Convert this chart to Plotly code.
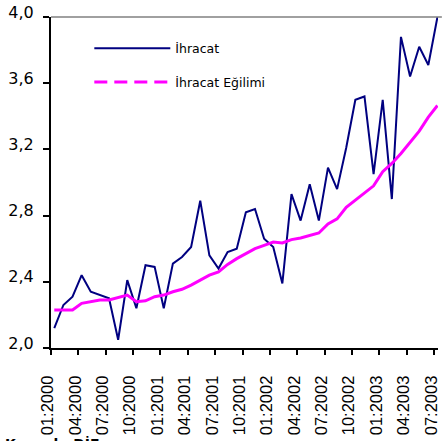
import plotly.graph_objects as go

month_index = list(range(43))
tick_months = list(range(0, 43, 3))
tick_labels = ["01:2000", "04:2000", "07:2000", "10:2000",
               "01:2001", "04:2001", "07:2001", "10:2001",
               "01:2002", "04:2002", "07:2002", "10:2002",
               "01:2003", "04:2003", "07:2003"]

ihracat = [2.12, 2.26, 2.31, 2.44, 2.34, 2.32, 2.30, 2.05, 2.41, 2.24,
           2.50, 2.49, 2.24, 2.51, 2.55, 2.61, 2.89, 2.56, 2.48, 2.58,
           2.60, 2.82, 2.84, 2.66, 2.61, 2.39, 2.93, 2.77, 2.99, 2.77,
           3.09, 2.96, 3.21, 3.50, 3.52, 3.05, 3.50, 2.90, 3.88, 3.64,
           3.82, 3.71, 4.00]

egilim = [2.23, 2.23, 2.23, 2.27, 2.28, 2.29, 2.29, 2.305, 2.32, 2.28,
          2.285, 2.31, 2.32, 2.34, 2.355, 2.38, 2.41, 2.44, 2.46, 2.505,
          2.54, 2.57, 2.60, 2.62, 2.64, 2.635, 2.655, 2.665, 2.68, 2.695,
          2.75, 2.78, 2.85, 2.895, 2.94, 2.98, 3.065, 3.115, 3.175, 3.245,
          3.31, 3.395, 3.465]

tick_offset = -0.36
tickvals = [m + tick_offset for m in tick_months]

fig = go.Figure()
fig.add_trace(go.Scatter(
    x=month_index, y=ihracat, mode="lines", name="İhracat",
    line=dict(color="#000080", width=2), legend="legend"))
fig.add_trace(go.Scatter(
    x=month_index, y=egilim, mode="lines", name="İhracat Eğilimi",
    line=dict(color="#FF00FF", width=3), showlegend=False))
fig.add_trace(go.Scatter(
    x=[None], y=[None], mode="lines", name="İhracat Eğilimi",
    line=dict(color="#FF00FF", width=3, dash="13px,7px"), legend="legend2"))

fig.add_shape(type="line", xref="paper", yref="paper", x0=0, x1=1.01, y0=1, y1=1,
              line=dict(color="#808080", width=1.5))

fig.add_annotation(text="<b>Kaynak: DİE</b>", xref="paper", yref="paper",
                   x=-0.125, y=-0.26, xanchor="left", yanchor="top", showarrow=False,
                   font=dict(family="DejaVu Sans", size=14, color="black"))

legend_common = dict(bgcolor="rgba(0,0,0,0)", borderwidth=0, itemwidth=76,
                     font=dict(family="DejaVu Sans", size=12.5, color="black"),
                     xanchor="left", yanchor="middle")

fig.update_layout(
    width=443, height=441,
    margin=dict(l=51, r=3, t=14, b=93),
    paper_bgcolor="white", plot_bgcolor="white",
    legend=dict(x=0.099, y=(348 - 46) / 334, **legend_common),
    legend2=dict(x=0.099, y=(348 - 80) / 334, **legend_common),
    xaxis=dict(range=[-0.36, 42.06], tickmode="array", tickvals=tickvals,
               ticktext=tick_labels, tickangle=-90, ticks="outside", ticklen=5,
               tickwidth=1.5, tickcolor="black", showline=True, linecolor="black",
               linewidth=2, showgrid=False, zeroline=False, ticklabelshift=-3,
               ticklabelstandoff=14, ticklabeloverflow="allow",
               tickfont=dict(family="Liberation Sans", size=16.5, color="black")),
    yaxis=dict(range=[2.0, 4.0], tickmode="array",
               tickvals=[2.0, 2.4, 2.8, 3.2, 3.6, 4.0],
               ticktext=["2,0", "2,4", "2,8", "3,2", "3,6", "4,0"],
               ticks="outside", ticklen=6, tickwidth=1.5, tickcolor="black",
               showline=True, linecolor="black", linewidth=2, showgrid=False,
               zeroline=False, ticklabelshift=-5, ticklabelstandoff=6,
               ticklabeloverflow="allow",
               tickfont=dict(family="DejaVu Sans", size=16, color="black")),
)

fig.write_html("out.html", config={"displayModeBar": False},
               post_script="document.body.style.margin='0';")
